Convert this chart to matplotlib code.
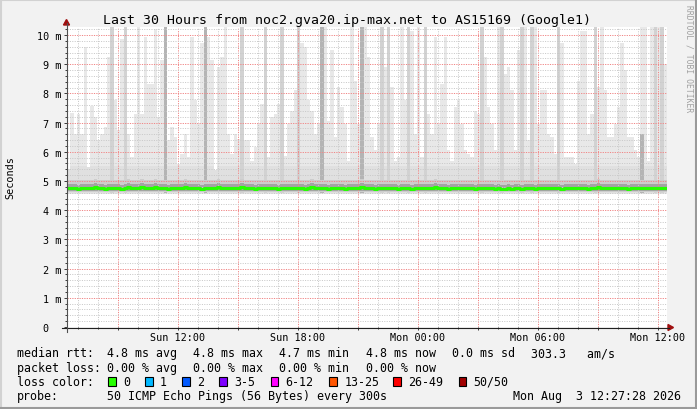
import numpy as np
import matplotlib
matplotlib.use("Agg")
import matplotlib.pyplot as plt
from matplotlib.patches import Rectangle, Polygon
from matplotlib.lines import Line2D
import matplotlib.transforms as mtransforms

# ---------------- data ----------------
title = "Last 30 Hours from noc2.gva20.ip-max.net to AS15169 (Google1)"
start_h = 6 + 27 / 60 + 28 / 3600      # Sun 06:27:28 (hours since Sun 00:00)
span_h = 30
step_h = 1 / 6                          # 10-minute buckets

# upper edge of the smoke (ms) per bucket
smoke_max = [
    5.42, 7.32, 6.62, 7.28, 6.62, 9.59, 5.47, 7.58, 7.19, 6.39,
    6.62, 6.85, 9.25, 10.3, 7.76, 6.73, 9.88, 10.3, 6.62, 5.82,
    7.30, 10.3, 7.30, 9.94, 8.33, 8.33, 10.2, 7.19, 9.13, 10.3,
    6.39, 6.85, 6.50, 5.59, 5.93, 6.62, 5.82, 9.94, 7.76, 6.96,
    9.71, 10.3, 9.94, 9.13, 5.36, 8.90,
    9.25, 10.3, 6.62, 5.93, 6.62, 6.45, 10.3, 6.39, 6.39, 5.70,
    6.16, 6.96, 7.64, 10.3, 5.82, 7.19, 7.30, 7.64, 10.3, 5.87,
    6.96, 7.41, 8.10, 10.3, 9.71, 9.59, 7.76, 7.41, 6.62, 6.96,
    10.3, 10.3, 7.07, 9.48, 6.50, 8.21, 7.53, 6.96, 5.70, 10.3,
    8.44, 6.96, 10.3, 10.3, 9.25,
    6.50, 6.05, 6.96, 10.3, 8.90, 10.3, 8.21, 5.70, 5.82, 10.3,
    7.76, 10.3, 10.15, 6.62, 10.3, 5.82, 10.3, 7.30, 6.62, 9.94,
    6.96, 8.33, 9.94, 6.05, 5.70, 7.53, 7.76, 6.96, 6.05, 5.93,
    5.82, 7.41, 7.30, 10.3, 9.25, 7.53, 6.96, 6.05, 10.3, 10.26,
    8.67, 8.90, 8.10, 6.05, 9.48,
    10.3, 10.3, 6.39, 10.3, 10.3, 6.96, 8.10, 8.10, 6.62, 6.50,
    5.93, 10.3, 9.71, 5.82, 5.82, 5.82, 5.59, 8.44, 10.15, 10.15,
    6.62, 7.30, 10.3, 8.21, 10.3, 8.10, 6.50, 6.50, 6.96, 7.53,
    9.71, 8.79, 6.50, 6.50, 6.05, 5.82, 10.3, 10.3, 5.70, 10.3,
    10.3, 10.3, 10.3, 9.02,
]

# buckets where several pings were high (denser smoke)
dark_idx = [13, 17, 52, 59, 64, 69, 94, 96, 102, 107, 124, 130, 136, 139, 147, 158, 176, 178]
dark_top = [10.3, 10.3, 10.3, 10.3, 10.3, 10.3, 10.3, 10.3, 10.3, 10.3, 10.3, 10.3, 10.3, 10.3, 10.3, 10.3, 10.3, 10.3]
strong_idx = [29, 41, 76, 88, 172]
strong_top = [10.3, 10.3, 10.3, 10.3, 6.6]

median_rtt = [
    4.75, 4.75, 4.76, 4.74, 4.75, 4.77, 4.76, 4.75, 4.78, 4.76, 4.75, 4.74, 4.75, 4.76, 4.77, 4.75, 4.74, 4.76,
    4.78, 4.76, 4.75, 4.77, 4.79, 4.76, 4.75, 4.76, 4.78, 4.77, 4.75, 4.76, 4.74, 4.75, 4.77, 4.76, 4.75, 4.78,
    4.76, 4.75, 4.77, 4.76, 4.74, 4.75, 4.76, 4.75, 4.77, 4.78, 4.76, 4.75, 4.76, 4.77, 4.75, 4.76, 4.78, 4.76,
    4.75, 4.76, 4.74, 4.75, 4.76, 4.77, 4.75, 4.76, 4.75, 4.74, 4.76, 4.75, 4.77, 4.76, 4.75, 4.76, 4.75, 4.74,
    4.76, 4.78, 4.77, 4.75, 4.76, 4.75, 4.74, 4.76, 4.75, 4.77, 4.76, 4.74, 4.75, 4.76, 4.75, 4.77, 4.78, 4.76,
    4.75, 4.76, 4.74, 4.75, 4.76, 4.75, 4.77, 4.76, 4.75, 4.74, 4.75, 4.76, 4.75, 4.74, 4.76, 4.75, 4.77, 4.76,
    4.75, 4.76, 4.78, 4.77, 4.75, 4.76, 4.74, 4.75, 4.76, 4.75, 4.77, 4.76, 4.75, 4.76, 4.74, 4.75, 4.76, 4.75,
    4.76, 4.75, 4.74, 4.75, 4.73, 4.74, 4.75, 4.74, 4.76, 4.75, 4.74, 4.75, 4.76, 4.75, 4.74, 4.75, 4.76, 4.77,
    4.76, 4.75, 4.76, 4.75, 4.74, 4.76, 4.75, 4.77, 4.76, 4.75, 4.76, 4.75, 4.74, 4.75, 4.76, 4.78, 4.77, 4.76,
    4.75, 4.76, 4.75, 4.77, 4.76, 4.75, 4.74, 4.76, 4.77, 4.75, 4.76, 4.75, 4.76, 4.77, 4.75, 4.76, 4.75, 4.76,
]

xtick_pos = [12, 18, 24, 30, 36]
xtick_labels = ["Sun 12:00", "Sun 18:00", "Mon 00:00", "Mon 06:00", "Mon 12:00"]
ytick_pos = [0, 1, 2, 3, 4, 5, 6, 7, 8, 9, 10]
ytick_labels = ["0", "1 m", "2 m", "3 m", "4 m", "5 m", "6 m", "7 m", "8 m", "9 m", "10 m"]

row_rtt = [("median rtt:", 16.7), ("4.8 ms avg", 107.3), ("4.8 ms max", 193.3),
           ("4.7 ms min", 279.3), ("4.8 ms now", 365.7), ("0.0 ms sd", 451.7),
           ("303.3   am/s", 530.7)]
row_loss = [("packet loss:", 16.7), ("0.00 % avg", 107.3), ("0.00 % max", 193.3),
            ("0.00 % min", 279.3), ("0.00 % now", 365.7)]
loss_labels = ["0", "1", "2", "3-5", "6-12", "13-25", "26-49", "50/50"]
loss_colors = ["#26ff00", "#00b8ff", "#0059ff", "#7e00ff", "#ff00ff", "#ff5500", "#ff0000", "#a10000"]
loss_box_x = [108.3, 145.0, 182.3, 219.3, 270.7, 329.3, 393.3, 458.7]
probe_text = "50 ICMP Echo Pings (56 Bytes) every 300s"
date_text = "Mon Aug  3 12:27:28 2026"

# ---------------- layout ----------------
W, H = 697, 410
MONO = "DejaVu Sans Mono"


def fx(px):
    return px / W


def fy(py):
    return 1 - py / H


fig = plt.figure(figsize=(W / 100, H / 100), dpi=100, facecolor="#f2f2f2")

# shaded frame
fig.add_artist(Line2D([0, 1], [fy(0.5), fy(0.5)], color="#d2d2d2", lw=1.5, transform=fig.transFigure))
fig.add_artist(Line2D([fx(0.5), fx(0.5)], [0, 1], color="#d2d2d2", lw=1.5, transform=fig.transFigure))
fig.add_artist(Line2D([0, 1], [fy(409), fy(409)], color="#9a9a9a", lw=1.5, transform=fig.transFigure))
fig.add_artist(Line2D([fx(696), fx(696)], [0, 1], color="#9a9a9a", lw=1.5, transform=fig.transFigure))

ymax = 300 / 29.2
ax = fig.add_axes([fx(67), fy(328), 600 / W, 300 / H])
ax.set_facecolor("white")
ax.set_xlim(start_h, start_h + span_h)
ax.set_ylim(0, ymax)
for s in ax.spines.values():
    s.set_visible(False)

n = len(smoke_max)
edges = start_h + np.arange(n + 1) * step_h
top = np.array(smoke_max + [smoke_max[-1]])
med = np.array(median_rtt + [median_rtt[-1]])

# smoke layers
ax.fill_between(edges, 4.57, top, step="post", color="#e8e8e8", lw=0, zorder=1.0)
ax.fill_between(edges, 4.60, np.minimum(top, 5.5), step="post", color="#e0e0e0", lw=0, zorder=1.1)
for i, t in zip(dark_idx, dark_top):
    ax.fill_between([edges[i], edges[i + 1]], 4.6, t, color="#d2d2d2", lw=0, zorder=1.2)
for i, t in zip(strong_idx, strong_top):
    ax.fill_between([edges[i], edges[i + 1]], 4.6, t, color="#b4b4b4", lw=0, zorder=1.3)
ax.fill_between(edges, 4.62, np.minimum(top, med + 0.28), step="post", color="#cdcdcd", lw=0, zorder=1.4)
ax.fill_between(edges, 4.66, med + 0.14, step="post", color="#a4a4a4", lw=0, zorder=1.5)

# median line
ax.step(edges, med, where="post", color="#26ff00", lw=2.2, zorder=3)

# grid
ax.set_xticks(np.arange(9, 37, 3))
ax.set_xticks(np.arange(7, 37, 1), minor=True)
ax.set_yticks(ytick_pos)
ax.set_yticks(np.arange(0, 10.3, 0.2), minor=True)
ax.set_axisbelow(False)
ax.grid(which="major", color="#f08888", lw=0.72, linestyle=(0, (1.2, 1.2)), zorder=2.5)
ax.grid(which="minor", color="#c8c8c8", lw=0.72, linestyle=(0, (1, 1.4)), zorder=2.4)
ax.tick_params(which="both", labelbottom=False, labelleft=False, direction="out",
               color="#404040", width=0.72)
ax.tick_params(which="major", length=2.2)
ax.tick_params(which="minor", length=1.4)

# axis lines with arrows
fig.add_artist(Line2D([fx(62), fx(669)], [fy(328.5), fy(328.5)], color="#202020", lw=0.8,
                      transform=fig.transFigure))
fig.add_artist(Line2D([fx(66.5), fx(66.5)], [fy(333), fy(24)], color="#505050", lw=0.8,
                      transform=fig.transFigure))
fig.add_artist(Polygon([(fx(668), fy(325.5)), (fx(673.5), fy(328.5)), (fx(668), fy(331.5))],
                       closed=True, color="#a01010", transform=fig.transFigure))
fig.add_artist(Polygon([(fx(63.5), fy(26)), (fx(66.5), fy(20.5)), (fx(69.5), fy(26))],
                       closed=True, color="#a01010", transform=fig.transFigure))

# tick labels
tx = mtransforms.blended_transform_factory(ax.transData, fig.transFigure)
for p, lab in zip(xtick_pos, xtick_labels):
    ax.text(p, fy(341.5), lab, transform=tx, ha="center", va="baseline",
            family=MONO, fontsize=7.3, color="black")
ty = mtransforms.offset_copy(mtransforms.blended_transform_factory(fig.transFigure, ax.transData),
                             fig=fig, x=0, y=-4, units="dots")
for p, lab in zip(ytick_pos, ytick_labels):
    xr = fx(48.8) if lab == "0" else fx(61.2)
    ax.text(xr, p, lab, transform=ty, ha="right", va="baseline",
            family=MONO, fontsize=7.3, color="black", clip_on=False)

# title and side labels
fig.text(fx(346.7), fy(24), title, ha="center", va="baseline", family=MONO, fontsize=9.5)
fig.text(fx(10), fy(178), "Seconds", rotation=90, ha="center", va="center",
         family=MONO, fontsize=7.3)
fig.text(fx(688.5), fy(58.5), "RRDTOOL / TOBI OETIKER", rotation=270, ha="center", va="center",
         family=MONO, fontsize=5.8, color="#a0a0a0")

# legend rows
LF = 8.37
for s, x in row_rtt:
    fig.text(fx(x), fy(357.5), s, ha="left", va="baseline", family=MONO, fontsize=LF)
for s, x in row_loss:
    fig.text(fx(x), fy(371.7), s, ha="left", va="baseline", family=MONO, fontsize=LF)
fig.text(fx(16.7), fy(386), "loss color:", ha="left", va="baseline", family=MONO, fontsize=LF)
for lab, col, bx in zip(loss_labels, loss_colors, loss_box_x):
    fig.add_artist(Rectangle((fx(bx), fy(386.5)), 7.5 / W, 8.5 / H, facecolor=col,
                             edgecolor="black", lw=0.8, transform=fig.transFigure))
    fig.text(fx(bx + 15), fy(386), lab, ha="left", va="baseline", family=MONO, fontsize=LF)
fig.text(fx(16.7), fy(400.2), "probe:", ha="left", va="baseline", family=MONO, fontsize=LF)
fig.text(fx(107.3), fy(400.2), probe_text, ha="left", va="baseline", family=MONO, fontsize=LF)
fig.text(fx(513.3), fy(400.2), date_text, ha="left", va="baseline", family=MONO, fontsize=LF)

fig.savefig("out.png", dpi=100, facecolor=fig.get_facecolor())
